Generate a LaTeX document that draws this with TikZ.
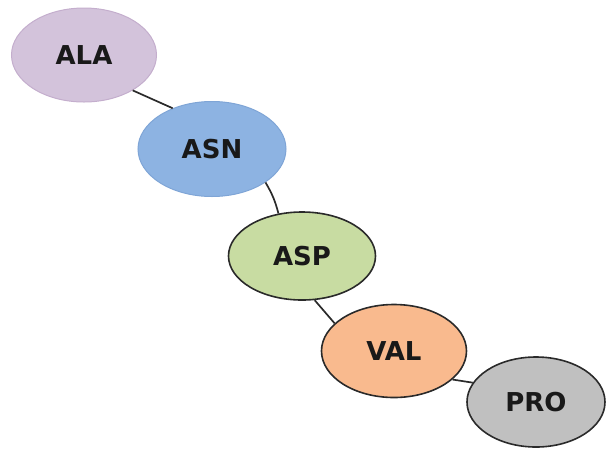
\documentclass[tikz,border=0pt]{standalone}
\usepackage{fontspec}
\setmainfont{DejaVu Sans}
\usetikzlibrary{shapes.geometric}
\definecolor{alaF}{HTML}{D3C3DB}
\definecolor{alaD}{HTML}{C4AECD}
\definecolor{asnF}{HTML}{8DB3E2}
\definecolor{asnD}{HTML}{7FA5D6}
\definecolor{aspF}{HTML}{C8DCA2}
\definecolor{valF}{HTML}{F9BA8E}
\definecolor{proF}{HTML}{C0C0C0}
\definecolor{edgeD}{HTML}{2A2A2A}
\tikzset{
  blob/.style={ellipse, inner sep=0pt, font=\bfseries\fontsize{26}{30}\selectfont, text=black!90},
  link/.style={draw=edgeD, line width=1.7pt}
}
\begin{document}
\begin{tikzpicture}[x=1pt,y=-1pt]
\useasboundingbox (0,0) rectangle (606,451);
\node[blob, fill=alaF, draw=alaD, line width=1pt, minimum width=145pt, minimum height=94pt] (ALA) at (84,55) {ALA};
\node[blob, fill=asnF, draw=asnD, line width=1pt, minimum width=148pt, minimum height=95pt] (ASN) at (212,149) {ASN};
\node[blob, fill=aspF, draw=edgeD, line width=1.6pt, minimum width=147pt, minimum height=88pt] (ASP) at (302,256) {ASP};
\node[blob, fill=valF, draw=edgeD, line width=1.6pt, minimum width=145pt, minimum height=93pt] (VAL) at (394,351) {VAL};
\node[blob, fill=proF, draw=edgeD, line width=1.6pt, minimum width=138pt, minimum height=90pt] (PRO) at (536,402) {PRO};
\draw[link] (ALA.-36) -- (ASN.134);
\draw[link] (ASN.-32) to[bend left=8] (ASP.119);
\draw[link] (ASP.-74) -- (VAL.155);
\draw[link] (VAL.-26) -- (PRO.163);
\end{tikzpicture}
\end{document}
